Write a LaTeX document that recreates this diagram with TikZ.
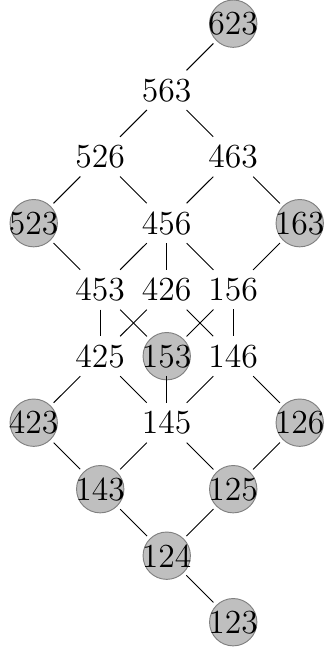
\documentclass[tikz,border=0pt]{standalone}
\usetikzlibrary{backgrounds}
\begin{document}
\begin{tikzpicture}[
  lbl/.style={font=\Large, inner sep=.3333em},
  hl/.style={fill=gray!50, draw=gray, line width=0.4pt},
  conn/.style={line width=0.4pt, black}
]
\useasboundingbox (0,0) rectangle (4.857,-9.759);
\def\xo{0.507}
\def\yo{-0.356}
\node[lbl] (n623) at (\xo+3,\yo-0) {623};
\node[lbl] (n563) at (\xo+2,\yo-1) {563};
\node[lbl] (n526) at (\xo+1,\yo-2) {526};
\node[lbl] (n463) at (\xo+3,\yo-2) {463};
\node[lbl] (n523) at (\xo+0,\yo-3) {523};
\node[lbl] (n456) at (\xo+2,\yo-3) {456};
\node[lbl] (n163) at (\xo+4,\yo-3) {163};
\node[lbl] (n453) at (\xo+1,\yo-4) {453};
\node[lbl] (n426) at (\xo+2,\yo-4) {426};
\node[lbl] (n156) at (\xo+3,\yo-4) {156};
\node[lbl] (n425) at (\xo+1,\yo-5) {425};
\node[lbl] (n153) at (\xo+2,\yo-5) {153};
\node[lbl] (n146) at (\xo+3,\yo-5) {146};
\node[lbl] (n423) at (\xo+0,\yo-6) {423};
\node[lbl] (n145) at (\xo+2,\yo-6) {145};
\node[lbl] (n126) at (\xo+4,\yo-6) {126};
\node[lbl] (n143) at (\xo+1,\yo-7) {143};
\node[lbl] (n125) at (\xo+3,\yo-7) {125};
\node[lbl] (n124) at (\xo+2,\yo-8) {124};
\node[lbl] (n123) at (\xo+3,\yo-9) {123};
\begin{scope}[on background layer]
\foreach \n in {n623,n523,n163,n153,n423,n126,n143,n125,n124,n123}
  \filldraw[hl] (\n.center) circle (0.356);
\end{scope}
\foreach \a/\b in {n623/n563, n563/n526, n563/n463, n526/n523, n526/n456,
  n463/n456, n463/n163, n523/n453, n456/n453, n456/n426, n456/n156,
  n163/n156, n453/n425, n453/n153, n426/n425, n426/n146, n156/n153,
  n156/n146, n425/n423, n425/n145, n153/n145, n146/n145, n146/n126,
  n423/n143, n145/n143, n145/n125, n126/n125, n143/n124, n125/n124,
  n124/n123}
  \draw[conn] (\a) -- (\b);
\end{tikzpicture}
\end{document}
